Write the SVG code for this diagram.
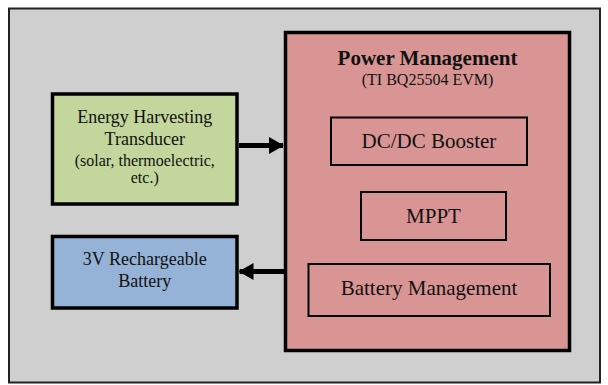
<svg xmlns="http://www.w3.org/2000/svg" width="608" height="385" viewBox="0 0 608 385">
<defs>
<style>
text{font-family:"Liberation Serif","Times New Roman",serif;fill:#111;text-anchor:middle}
.node{stroke:#000;stroke-width:3.5}
.sub{fill:none;stroke:#000;stroke-width:2}
.conn{stroke:#000;stroke-width:5;fill:none}
</style>
<marker id="ah" markerWidth="15" markerHeight="17" refX="14" refY="8.5" orient="auto" markerUnits="userSpaceOnUse" viewBox="0 0 15 17">
<path d="M0,0 L15,8.5 L0,17 Z" fill="#000"/>
</marker>
</defs>
<rect x="0" y="0" width="608" height="385" fill="#fff"/>
<g id="background">
<rect x="9" y="8.5" width="591" height="374" fill="#cfcfcf" stroke="#222" stroke-width="2"/>
</g>
<g id="power-management">
<rect class="node" x="285.5" y="32.5" width="284" height="318" fill="#d99594"/>
<text x="427.5" y="65" font-size="21" font-weight="bold">Power Management</text>
<text x="427.5" y="85" font-size="16">(TI BQ25504 EVM)</text>
</g>
<g id="dcdc-booster">
<rect class="sub" x="331" y="117.5" width="196" height="47.5"/>
<text x="429" y="148" font-size="21">DC/DC Booster</text>
</g>
<g id="mppt">
<rect class="sub" x="361" y="192" width="145" height="48"/>
<text x="433.5" y="223" font-size="21">MPPT</text>
</g>
<g id="battery-management">
<rect class="sub" x="308.5" y="264" width="241.5" height="52"/>
<text x="429" y="295" font-size="21">Battery Management</text>
</g>
<g id="energy-harvesting">
<rect class="node" x="52.5" y="94" width="184.5" height="110" fill="#c3d69b"/>
<text x="144.75" y="123" font-size="18">Energy Harvesting</text>
<text x="144.75" y="145" font-size="18">Transducer</text>
<text x="144.75" y="166" font-size="16">(solar, thermoelectric,</text>
<text x="144.75" y="183" font-size="16">etc.)</text>
</g>
<g id="battery">
<rect class="node" x="52.5" y="236.5" width="184.5" height="71.5" fill="#95b3d7"/>
<text x="144.75" y="265" font-size="18">3V Rechargeable</text>
<text x="144.75" y="287" font-size="18">Battery</text>
</g>
<g id="connectors">
<line class="conn" x1="239" y1="145.5" x2="283" y2="145.5" marker-end="url(#ah)"/>
<line class="conn" x1="284" y1="271.5" x2="239.5" y2="271.5" marker-end="url(#ah)"/>
</g>
</svg>
